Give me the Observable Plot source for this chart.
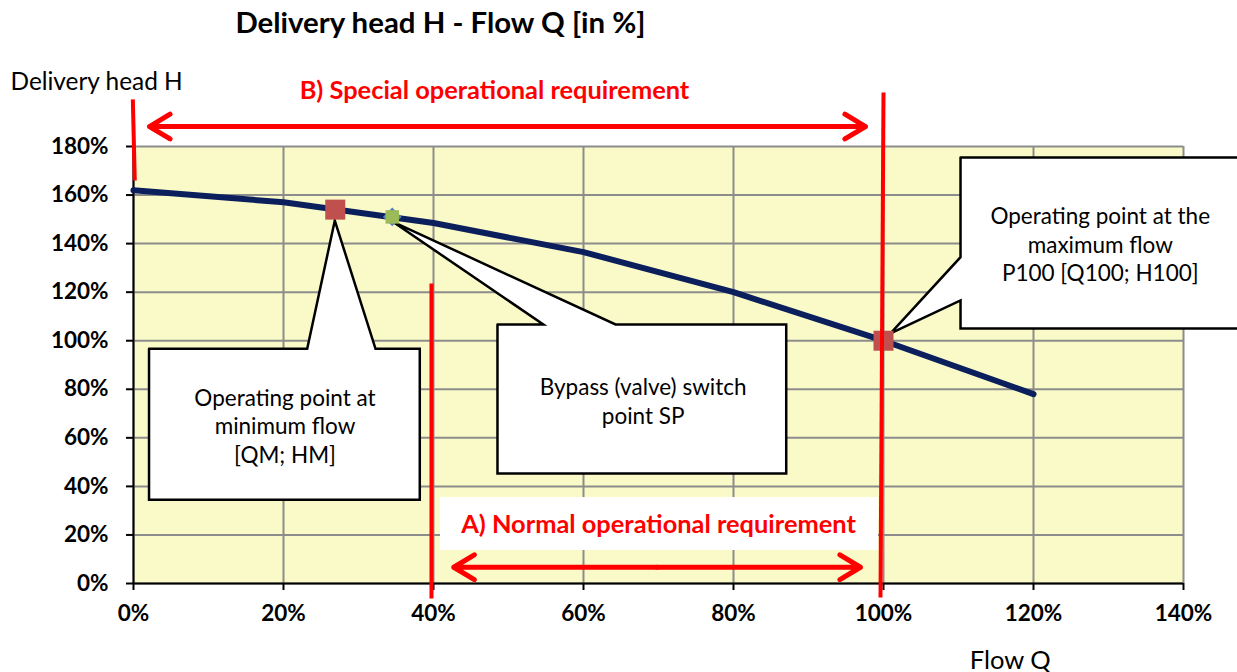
<!DOCTYPE html>
<html><head><meta charset="utf-8">
<script src="https://cdn.jsdelivr.net/npm/d3@7"></script>
<script src="https://cdn.jsdelivr.net/npm/@observablehq/plot@0.6"></script>
<style>
html,body{margin:0;padding:0;background:#fff;overflow:hidden}
svg{display:block}
</style></head><body><div id="chart"></div>
<script>
// ---- data ----
const flowQ = [0, 20, 40, 60, 80, 100, 120];
const headH = [162, 157, 148.5, 136.5, 120, 100, 78];
const xTicks = [0, 20, 40, 60, 80, 100, 120, 140];
const yTicks = [0, 20, 40, 60, 80, 100, 120, 140, 160, 180];
const opQ = [26.9, 100];          // operating points (min flow, P100)
const opH = [154, 100];
const spQ = [34.5];               // bypass switch point
const spH = [151];

// ---- annotation geometry (data units) ----
const callout1Q = [2.07, 23.16, 26.84, 32.27, 38.17, 38.17, 2.07, 2.07];
const callout1H = [96.67, 96.67, 149.5, 96.67, 96.67, 34.48, 34.48, 96.67];
const callout2Q = [48.53, 54.65, 34.53, 64.27, 87.03, 87.03, 48.53, 48.53];
const callout2H = [106.68, 106.68, 149.1, 106.68, 106.68, 45.31, 45.31, 106.68];
const callout3Q = [110.27, 150, 150, 110.27, 110.27, 100.93, 110.27, 110.27];
const callout3H = [175.5, 175.5, 105.0, 105.0, 116.6, 103.0, 134.4, 175.5];
const calloutTexts = [
  "Operating point at\nminimum flow\n[QM; HM]",
  "Bypass (valve) switch\npoint SP",
  "Operating point at the\nmaximum flow\nP100 [Q100; H100]"
];
const calloutTextQ = [20.2, 67.95, 128.9];
const calloutTextH = [65.3, 75.4, 140.0];
const redLineQ1 = [-0.09, 39.73, 100.0];
const redLineH1 = [199.4, 123.6, 202.2];
const redLineQ2 = [0.17, 39.73, 99.6];
const redLineH2 = [166.0, -6.2, -5.8];
const arrowLeftQ = [2.13, 42.7];
const arrowRightQ = [97.6, 96.93];
const arrowH = [188.2, 6.7];
const labelTexts = ["B) Special operational requirement", "A) Normal operational requirement"];
const labelQ = [48.13, 70.0];
const labelH = [202.9, 24.3];

const curve = flowQ.map((q, i) => ({q, h: headH[i]}));
const ops = opQ.map((q, i) => ({q, h: opH[i]}));
const sps = spQ.map((q, i) => ({q, h: spH[i]}));
const polys = [];
[[callout1Q, callout1H], [callout2Q, callout2H], [callout3Q, callout3H]].forEach(([qs, hs], k) =>
  qs.forEach((q, i) => polys.push({id: k, q, h: hs[i]})));
const ctext = calloutTexts.map((t, i) => ({t, q: calloutTextQ[i], h: calloutTextH[i]}));
const reds = redLineQ1.map((q, i) => ({q1: q, h1: redLineH1[i], q2: redLineQ2[i], h2: redLineH2[i]}));
const arrows = [];
arrowH.forEach((h, i) => {
  const mid = (arrowLeftQ[i] + arrowRightQ[i]) / 2;
  arrows.push({q1: mid, q2: arrowLeftQ[i], h});
  arrows.push({q1: mid, q2: arrowRightQ[i], h});
});
const labels = labelTexts.map((t, i) => ({t, q: labelQ[i], h: labelH[i]}));

const RED = "#FF0000";
const FONT = "Lato, 'Open Sans', sans-serif";

const chart = Plot.plot({
  width: 1237,
  height: 672,
  marginLeft: 133,
  marginRight: 54,
  marginTop: 146,
  marginBottom: 89,
  style: {fontFamily: FONT, fontSize: "22px", color: "#000", background: "#fff", overflow: "visible"},
  x: {domain: [0, 140]},
  y: {domain: [0, 180]},
  marks: [
    Plot.frame({fill: "#FAFAC8", stroke: "none"}),
    Plot.gridX(xTicks, {stroke: "#8C8C8C", strokeOpacity: 1, strokeWidth: 2}),
    Plot.gridY(yTicks, {stroke: "#8C8C8C", strokeOpacity: 1, strokeWidth: 2}),
    Plot.ruleX([0], {stroke: "#000", strokeWidth: 2}),
    Plot.ruleY([0], {stroke: "#000", strokeWidth: 2}),
    Plot.axisX(xTicks, {tickSize: 7, tickPadding: 15, tickFormat: d => d + "%", fontWeight: "bold", fontSize: 22.5, stroke: "#000", strokeWidth: 2, label: null}),
    Plot.axisY(yTicks, {tickSize: 7, tickPadding: 18, tickFormat: d => d + "%", fontWeight: "bold", fontSize: 22.5, stroke: "#000", strokeWidth: 2, label: null}),
    Plot.rect([{}], {x1: 40.93, x2: 99.33, y1: 13.6, y2: 35.4, fill: "white"}),
    Plot.line(curve, {x: "q", y: "h", stroke: "#0B1F5C", strokeWidth: 6, strokeLinejoin: "round"}),
    Plot.line(polys, {x: "q", y: "h", z: "id", fill: "white", stroke: "#000", strokeWidth: 2.5, strokeLinejoin: "miter", strokeMiterlimit: 10, clip: false}),
    Plot.dot(ops, {x: "q", y: "h", symbol: "square", r: 11.3, fill: "#C0504D"}),
    Plot.dot(sps, {x: "q", y: "h", symbol: "diamond2", r: 8.5, fill: "#4F81BD"}),
    Plot.dot(sps, {x: "q", y: "h", symbol: "square", r: 7.6, fill: "#9BBB59"}),
    Plot.link(reds, {x1: "q1", y1: "h1", x2: "q2", y2: "h2", stroke: RED, strokeWidth: 4, strokeLinecap: "butt"}),
    Plot.arrow(arrows, {x1: "q1", y1: "h", x2: "q2", y2: "h", stroke: RED, strokeWidth: 5, headLength: 7.2, headAngle: 62, bend: 0}),
    Plot.text(ctext, {x: "q", y: "h", text: "t", fontSize: 22.5, lineHeight: 1.27, fill: "#000"}),
    Plot.text(labels, {x: "q", y: "h", text: "t", fontSize: 25.4, fontWeight: "bold", fill: RED}),
    Plot.text(["Delivery head H - Flow Q [in %]"], {x: 40.93, y: 230.7, text: d => d, fontSize: 29.4, fontWeight: "bold", fill: "#000"}),
    Plot.text(["Delivery head H"], {x: -16.4, y: 206.4, text: d => d, fontSize: 24.4, textAnchor: "start", fill: "#000"}),
    Plot.text(["Flow Q"], {x: 116.9, y: -31.7, text: d => d, fontSize: 25.5, fill: "#000"})
  ]
});
document.getElementById("chart").append(chart);
</script></body></html>
